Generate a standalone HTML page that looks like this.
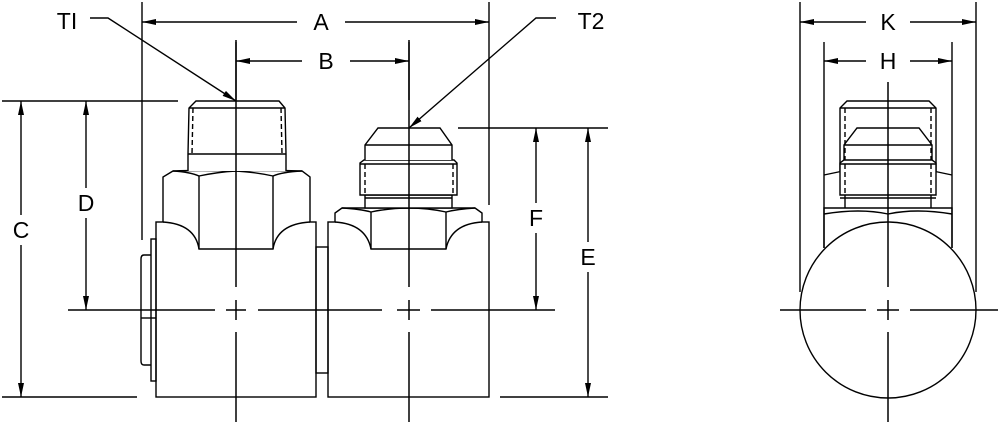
<!DOCTYPE html>
<html><head><meta charset="utf-8"><style>
html,body{margin:0;padding:0;background:#fff;}
svg{display:block;}
text{font-family:"Liberation Sans",sans-serif;font-size:23px;fill:#000;text-anchor:middle;}
</style></head><body>
<svg width="1000" height="422" viewBox="0 0 1000 422" xmlns="http://www.w3.org/2000/svg">
<defs>
<marker id="ar" viewBox="0 0 14 6" refX="14" refY="3" markerWidth="14" markerHeight="6" orient="auto-start-reverse" markerUnits="userSpaceOnUse"><path d="M0,0 L14,3 L0,6 z" fill="#000"/></marker>
</defs>
<g stroke="#000" stroke-width="1.4" fill="none">
<line x1="142" y1="2" x2="142" y2="240"/>
<line x1="489" y1="2" x2="489" y2="205"/>
<line x1="236" y1="42" x2="236" y2="100"/>
<line x1="409" y1="42" x2="409" y2="110"/>
<line x1="2" y1="101" x2="178" y2="101"/>
<line x1="2" y1="397" x2="137" y2="397"/>
<line x1="458" y1="128" x2="608" y2="128"/>
<line x1="500" y1="397" x2="608" y2="397"/>
<line x1="800" y1="2" x2="800" y2="292"/>
<line x1="976" y1="2" x2="976" y2="292"/>
<line x1="824" y1="42" x2="824" y2="248"/>
<line x1="952" y1="42" x2="952" y2="248"/>
<line x1="142" y1="22" x2="297" y2="22" marker-start="url(#ar)"/>
<line x1="345" y1="22" x2="489" y2="22" marker-end="url(#ar)"/>
<line x1="236" y1="61" x2="302" y2="61" marker-start="url(#ar)"/>
<line x1="350" y1="61" x2="409" y2="61" marker-end="url(#ar)"/>
<line x1="21" y1="101" x2="21" y2="215" marker-start="url(#ar)"/>
<line x1="21" y1="245" x2="21" y2="397" marker-end="url(#ar)"/>
<line x1="86" y1="101" x2="86" y2="188" marker-start="url(#ar)"/>
<line x1="86" y1="218" x2="86" y2="310" marker-end="url(#ar)"/>
<line x1="588" y1="128" x2="588" y2="242" marker-start="url(#ar)"/>
<line x1="588" y1="272" x2="588" y2="397" marker-end="url(#ar)"/>
<line x1="536" y1="128" x2="536" y2="203" marker-start="url(#ar)"/>
<line x1="536" y1="233" x2="536" y2="310" marker-end="url(#ar)"/>
<line x1="800" y1="22" x2="866" y2="22" marker-start="url(#ar)"/>
<line x1="910" y1="22" x2="976" y2="22" marker-end="url(#ar)"/>
<line x1="824" y1="61" x2="866" y2="61" marker-start="url(#ar)"/>
<line x1="910" y1="61" x2="952" y2="61" marker-end="url(#ar)"/>
<polyline points="90,18 108,18 236,101" marker-end="url(#ar)"/>
<polyline points="556,18 536,18 409,128" marker-end="url(#ar)"/>
<rect x="156" y="222" width="160" height="175" fill="#fff"/>
<rect x="328" y="222" width="161" height="175" fill="#fff"/>
<rect x="316" y="247" width="12" height="126"/>
<rect x="151" y="239" width="5" height="142"/>
<path d="M151,255 L144,255 Q141,255 141,259 L141,361 Q141,365 144,365 L151,365"/>
<line x1="141" y1="318" x2="156" y2="318"/>
<path d="M163,222 L163,177 L173,171 Q200,170 236,171 Q270,170 302,171 L310,177 L310,222" fill="#fff"/>
<rect x="164" y="220" width="145" height="4" fill="#fff" stroke="none"/>
<path d="M163,222 Q195,224 199,249 L273,249 Q277,224 310,222"/>
<line x1="199" y1="176" x2="199" y2="249"/>
<line x1="273" y1="176" x2="273" y2="249"/>
<path d="M173,171 Q190,172 199,176 Q218,172 236,171 Q254,172 273,176 Q282,172 302,171"/>
<path d="M188,171 L188,154 L189,108 L196,101 L279,101 L285,108 L286,154 L286,171" fill="#fff"/>
<line x1="188" y1="154" x2="286" y2="154"/>
<line x1="189" y1="108" x2="285" y2="108"/>
<line x1="193" y1="108" x2="192" y2="154" stroke-dasharray="5,3"/>
<line x1="281" y1="108" x2="282" y2="154" stroke-dasharray="5,3"/>
<path d="M335,222 L335,213 L342,208 L475,208 L482,213 L482,222" fill="#fff"/>
<rect x="336" y="220" width="145" height="4" fill="#fff" stroke="none"/>
<path d="M335,222 Q366,224 371,249 L446,249 Q451,224 482,222"/>
<line x1="371" y1="212" x2="371" y2="249"/>
<line x1="446" y1="212" x2="446" y2="249"/>
<path d="M342,208 Q360,209 371,212 Q390,208 409,208 Q428,208 446,212 Q458,209 475,208"/>
<rect x="365" y="195" width="87" height="13" fill="#fff"/>
<line x1="365" y1="198" x2="452" y2="198"/>
<path d="M360,195 L360,163 L364,160 L454,160 L457,163 L457,195 Z" fill="#fff"/>
<line x1="360" y1="164" x2="457" y2="164"/>
<line x1="365" y1="164" x2="365" y2="195" stroke-dasharray="5,3"/>
<line x1="453" y1="164" x2="453" y2="195" stroke-dasharray="5,3"/>
<path d="M365,160 L365,145 L378,128 L440,128 L452,145 L452,160" fill="#fff"/>
<line x1="365" y1="145" x2="452" y2="145"/>
<path d="M824,248 L824,208 L952,208 L952,248"/>
<path d="M824,214 Q860,208 888,214 Q916,208 952,214"/>
<path d="M824,175 L843,171 M933,171 L952,175"/>
<path d="M840,171 L840,108 L847,101 L929,101 L936,108 L936,171"/>
<line x1="840" y1="108" x2="936" y2="108"/>
<line x1="845" y1="108" x2="845" y2="160" stroke-dasharray="5,3"/>
<line x1="931" y1="108" x2="931" y2="160" stroke-dasharray="5,3"/>
<path d="M844,160 L844,145 L857,128 L919,128 L932,145 L932,160"/>
<line x1="844" y1="145" x2="932" y2="145"/>
<path d="M840,195 L840,163 L844,160 L932,160 L936,163 L936,195 Z" fill="#fff"/>
<line x1="840" y1="164" x2="936" y2="164"/>
<line x1="845" y1="164" x2="845" y2="195" stroke-dasharray="5,3"/>
<line x1="931" y1="164" x2="931" y2="195" stroke-dasharray="5,3"/>
<path d="M845,195 L845,208 M931,195 L931,208"/>
<line x1="840" y1="198" x2="936" y2="198"/>
<circle cx="888" cy="310" r="88" fill="#fff"/>
<g stroke-width="1.5">
<line x1="236" y1="40" x2="236" y2="287"/><line x1="236" y1="300" x2="236" y2="320"/><line x1="236" y1="332" x2="236" y2="422"/>
<line x1="409" y1="40" x2="409" y2="100"/><line x1="409" y1="110" x2="409" y2="287"/><line x1="409" y1="300" x2="409" y2="320"/><line x1="409" y1="332" x2="409" y2="422"/>
<line x1="888" y1="82" x2="888" y2="287"/><line x1="888" y1="300" x2="888" y2="320"/><line x1="888" y1="332" x2="888" y2="422"/>
<line x1="68" y1="310" x2="215" y2="310"/><line x1="226" y1="310" x2="246" y2="310"/><line x1="258" y1="310" x2="382" y2="310"/><line x1="397" y1="310" x2="420" y2="310"/><line x1="431" y1="310" x2="555" y2="310"/>
<line x1="780" y1="310" x2="866" y2="310"/><line x1="877" y1="310" x2="899" y2="310"/><line x1="910" y1="310" x2="998" y2="310"/>
</g>
</g>
<text x="67" y="29">TI</text>
<text x="321" y="30">A</text>
<text x="326" y="69">B</text>
<text x="591" y="29">T2</text>
<text x="21" y="238">C</text>
<text x="86" y="211">D</text>
<text x="588" y="265">E</text>
<text x="536" y="226">F</text>
<text x="888" y="30">K</text>
<text x="888" y="69">H</text>
</svg>
</body></html>
